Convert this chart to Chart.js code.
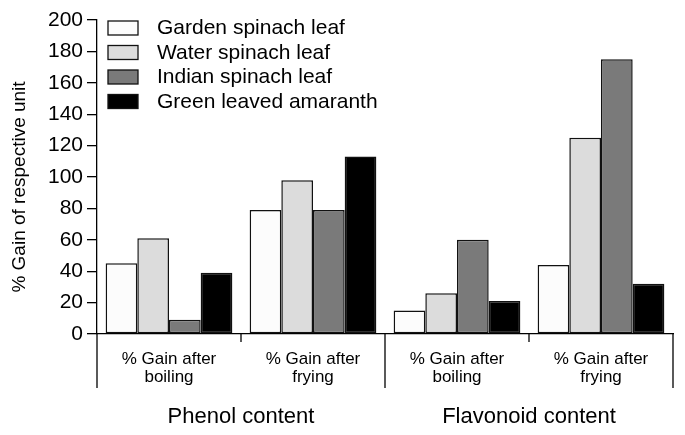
<!DOCTYPE html>
<html>
<head>
<meta charset="utf-8">
<script src="https://cdn.jsdelivr.net/npm/chart.js@4.4.1/dist/chart.umd.min.js"></script>
<style>
    html, body { margin: 0; padding: 0; background: #fff; }
    #wrap { width: 685px; height: 435px; }
</style>
</head>
<body>
<div id="wrap"><canvas id="gainChart" width="685" height="435"></canvas></div>
<script>
// data
const categories = [
    ["% Gain after", "boiling"],
    ["% Gain after", "frying"],
    ["% Gain after", "boiling"],
    ["% Gain after", "frying"],
]
const groups = ["Phenol content", "Flavonoid content"]
const seriesNames = [
    "Garden spinach leaf",
    "Water spinach leaf",
    "Indian spinach leaf",
    "Green leaved amaranth",
]
const gardenSpinach = [45, 79, 15, 44]
const waterSpinach = [61, 98, 26, 125]
const indianSpinach = [9, 79, 60, 175]
const amaranth = [39, 113, 21, 32]
const yTicks = [0, 20, 40, 60, 80, 100, 120, 140, 160, 180, 200]
const yTitle = "% Gain of respective unit"

const fills = ["#fcfcfc", "#dcdcdc", "#7a7a7a", "#000000"]
const FONT = "'Liberation Sans', Arial, sans-serif"

// legend drawn inside the plot, top left
const insideLegend = {
    id: "insideLegend",
    afterDraw(chart) {
        const { ctx, chartArea } = chart
        ctx.save()
        ctx.font = "21px " + FONT
        ctx.textBaseline = "middle"
        chart.data.datasets.forEach((ds, i) => {
            const y = chartArea.top + 1 + i * 24.5
            ctx.fillStyle = ds.backgroundColor
            ctx.fillRect(108, y, 30, 14)
            ctx.strokeStyle = "#111"
            ctx.lineWidth = 1.3
            ctx.strokeRect(108, y, 30, 14)
            ctx.fillStyle = "#000"
            ctx.fillText(ds.label, 157, y + 7.5)
        })
        ctx.restore()
    },
}

// separator lines below the x axis + y axis title
const separators = {
    id: "separators",
    afterDraw(chart) {
        const { ctx, chartArea } = chart
        const x = chart.scales.x
        const n = categories.length
        ctx.save()
        ctx.strokeStyle = "#000"
        ctx.lineWidth = 1.3
        for (let i = 0; i <= n; i++) {
            let px
            if (i === 0) px = x.left
            else if (i === n) px = x.right
            else px = (x.getPixelForValue(i - 1) + x.getPixelForValue(i)) / 2
            const len = i % 2 === 0 ? x.bottom - chartArea.bottom : 8
            ctx.beginPath()
            ctx.moveTo(px, chartArea.bottom)
            ctx.lineTo(px, chartArea.bottom + len)
            ctx.stroke()
        }
        // rotated y title, sits a little below the middle like the original
        ctx.translate(20, (chartArea.top + chartArea.bottom) / 2 + 10)
        ctx.rotate(-Math.PI / 2)
        ctx.font = "19px " + FONT
        ctx.fillStyle = "#000"
        ctx.textAlign = "center"
        ctx.textBaseline = "middle"
        ctx.fillText(yTitle, 0, 0)
        ctx.restore()
    },
}

const values = [gardenSpinach, waterSpinach, indianSpinach, amaranth]

new Chart(document.getElementById("gainChart"), {
    type: "bar",
    data: {
        labels: categories,
        datasets: seriesNames.map((name, i) => ({
            label: name,
            data: values[i],
            backgroundColor: fills[i],
            borderColor: "#111",
            borderWidth: 1.5,
            borderSkipped: false,
            barPercentage: 1,
            categoryPercentage: 0.88,
        })),
    },
    options: {
        responsive: false,
        animation: false,
        layout: { padding: { top: 20, right: 12, left: 0, bottom: 0 } },
        plugins: { legend: { display: false }, tooltip: { enabled: false } },
        scales: {
            x: {
                offset: true,
                grid: { display: false },
                border: { color: "#000", width: 1.3 },
                ticks: {
                    color: "#000",
                    padding: 8,
                    maxRotation: 0,
                    font: { family: FONT, size: 17, lineHeight: 1.08 },
                },
                afterFit(scale) { scale.height = 54 },
            },
            x2: {
                type: "category",
                position: "bottom",
                labels: groups,
                offset: true,
                grid: { display: false },
                border: { display: false },
                ticks: {
                    color: "#000",
                    padding: 8,
                    font: { family: FONT, size: 22 },
                },
                afterFit(scale) { scale.height = 47 },
            },
            y: {
                min: 0,
                max: 200,
                afterBuildTicks(scale) {
                    scale.ticks = yTicks.map((v) => ({ value: v }))
                },
                grid: {
                    drawOnChartArea: false,
                    color: "#000",
                    lineWidth: 1.3,
                    tickLength: 10,
                },
                border: { color: "#000", width: 1.3 },
                ticks: {
                    color: "#000",
                    padding: 4,
                    font: { family: FONT, size: 21 },
                },
                afterFit(scale) { scale.width = 97 },
            },
        },
    },
    plugins: [insideLegend, separators],
})
</script>
</body>
</html>
